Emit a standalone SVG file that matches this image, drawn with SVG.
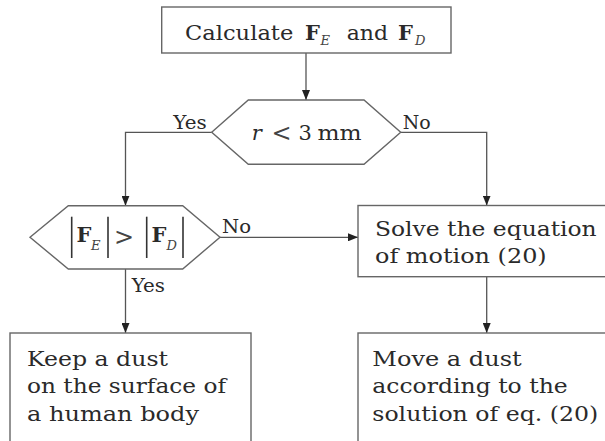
<svg xmlns="http://www.w3.org/2000/svg" width="605" height="441" viewBox="0 0 605 441" font-family="'DejaVu Serif', 'Liberation Serif', serif">
<style>
.shape{fill:#fff;stroke:#666;stroke-width:1.4}
.conn{fill:none;stroke:#555;stroke-width:1.3}
.t{font-family:'DejaVu Serif','Liberation Serif',serif;font-size:21px;fill:#2a2a2a}
.lbl{font-family:'DejaVu Serif','Liberation Serif',serif;font-size:18px;fill:#2a2a2a}
.b{font-weight:bold}
.sub{font-family:'DejaVu Serif','Liberation Serif',serif;font-size:13px;font-style:italic;fill:#444}
.it{font-style:italic}
.op{font-family:'DejaVu Serif','Liberation Serif',serif;font-size:24px;fill:#444}
.bar{stroke:#333;stroke-width:1.6}
</style>
<defs>
<marker id="arr" markerUnits="userSpaceOnUse" markerWidth="10" markerHeight="8" refX="10" refY="4" orient="auto">
<path d="M0,0 L10,4 L0,8 z" fill="#222"/>
</marker>
</defs>
<rect width="605" height="441" fill="#fff"/>

<g id="connectors">
<path class="conn" d="M306,53 V100" marker-end="url(#arr)"/>
<path class="conn" d="M211.7,132.3 H125.5 V205.7" marker-end="url(#arr)"/>
<path class="conn" d="M400.7,132.3 H486.7 V205.5" marker-end="url(#arr)"/>
<path class="conn" d="M220,237.3 H358" marker-end="url(#arr)"/>
<path class="conn" d="M125.5,269 V333" marker-end="url(#arr)"/>
<path class="conn" d="M486.7,276.7 V333" marker-end="url(#arr)"/>
<text class="lbl" x="173.3" y="129" textLength="33.4" lengthAdjust="spacingAndGlyphs">Yes</text>
<text class="lbl" x="402.7" y="129" textLength="28" lengthAdjust="spacingAndGlyphs">No</text>
<text class="lbl" x="222" y="233" textLength="29" lengthAdjust="spacingAndGlyphs">No</text>
<text class="lbl" x="131.7" y="292.3" textLength="33.3" lengthAdjust="spacingAndGlyphs">Yes</text>
</g>

<g id="calc">
<rect class="shape" x="161.7" y="7" width="289.3" height="46"/>
<text class="t" x="185" y="40" textLength="108.3" lengthAdjust="spacingAndGlyphs">Calculate</text>
<text class="t b" x="305" y="40">F</text>
<text class="sub" x="320.5" y="45">E</text>
<text class="t" x="346.7" y="40" textLength="41.3" lengthAdjust="spacingAndGlyphs">and</text>
<text class="t b" x="398" y="40">F</text>
<text class="sub" x="415" y="45">D</text>
</g>

<g id="dec1">
<polygon class="shape" points="211.7,132.3 248.3,100 364,100 400.7,132.3 364,164.3 248.3,164.3"/>
<text class="t it" x="251.7" y="140">r</text>
<text class="op" x="271.5" y="141">&lt;</text>
<text class="t" x="298.5" y="140">3</text>
<text class="t" x="317.5" y="140" textLength="44.2" lengthAdjust="spacingAndGlyphs">mm</text>
</g>

<g id="dec2">
<polygon class="shape" points="30,237.3 68.3,205.7 182.7,205.7 220,237.3 182.7,269 68.3,269"/>
<line class="bar" x1="71.7" y1="216.7" x2="71.7" y2="258"/>
<text class="t b" x="76.5" y="241.7">F</text>
<text class="sub" x="91" y="250">E</text>
<line class="bar" x1="108" y1="216.7" x2="108" y2="258"/>
<text class="op" x="114" y="245">&gt;</text>
<line class="bar" x1="146.7" y1="216.7" x2="146.7" y2="258"/>
<text class="t b" x="151.5" y="241.7">F</text>
<text class="sub" x="166.5" y="250">D</text>
<line class="bar" x1="183" y1="216.7" x2="183" y2="258"/>
</g>

<g id="solve">
<rect class="shape" x="358" y="205.5" width="252" height="71.2"/>
<text class="t" x="375" y="235.7" textLength="221.7" lengthAdjust="spacingAndGlyphs">Solve the equation</text>
<text class="t" x="375" y="263.3" textLength="171.7" lengthAdjust="spacingAndGlyphs">of motion (20)</text>
</g>

<g id="keep">
<rect class="shape" x="10" y="333" width="241" height="120"/>
<text class="t" x="27" y="366" textLength="141" lengthAdjust="spacingAndGlyphs">Keep a dust</text>
<text class="t" x="27" y="393.3" textLength="199" lengthAdjust="spacingAndGlyphs">on the surface of</text>
<text class="t" x="27" y="420.7" textLength="172" lengthAdjust="spacingAndGlyphs">a human body</text>
</g>

<g id="move">
<rect class="shape" x="358" y="333" width="252" height="120"/>
<text class="t" x="372.3" y="366" textLength="149.4" lengthAdjust="spacingAndGlyphs">Move a dust</text>
<text class="t" x="372.3" y="393.3" textLength="195.4" lengthAdjust="spacingAndGlyphs">according to the</text>
<text class="t" x="372.3" y="420.7" textLength="226" lengthAdjust="spacingAndGlyphs">solution of eq. (20)</text>
</g>
</svg>
